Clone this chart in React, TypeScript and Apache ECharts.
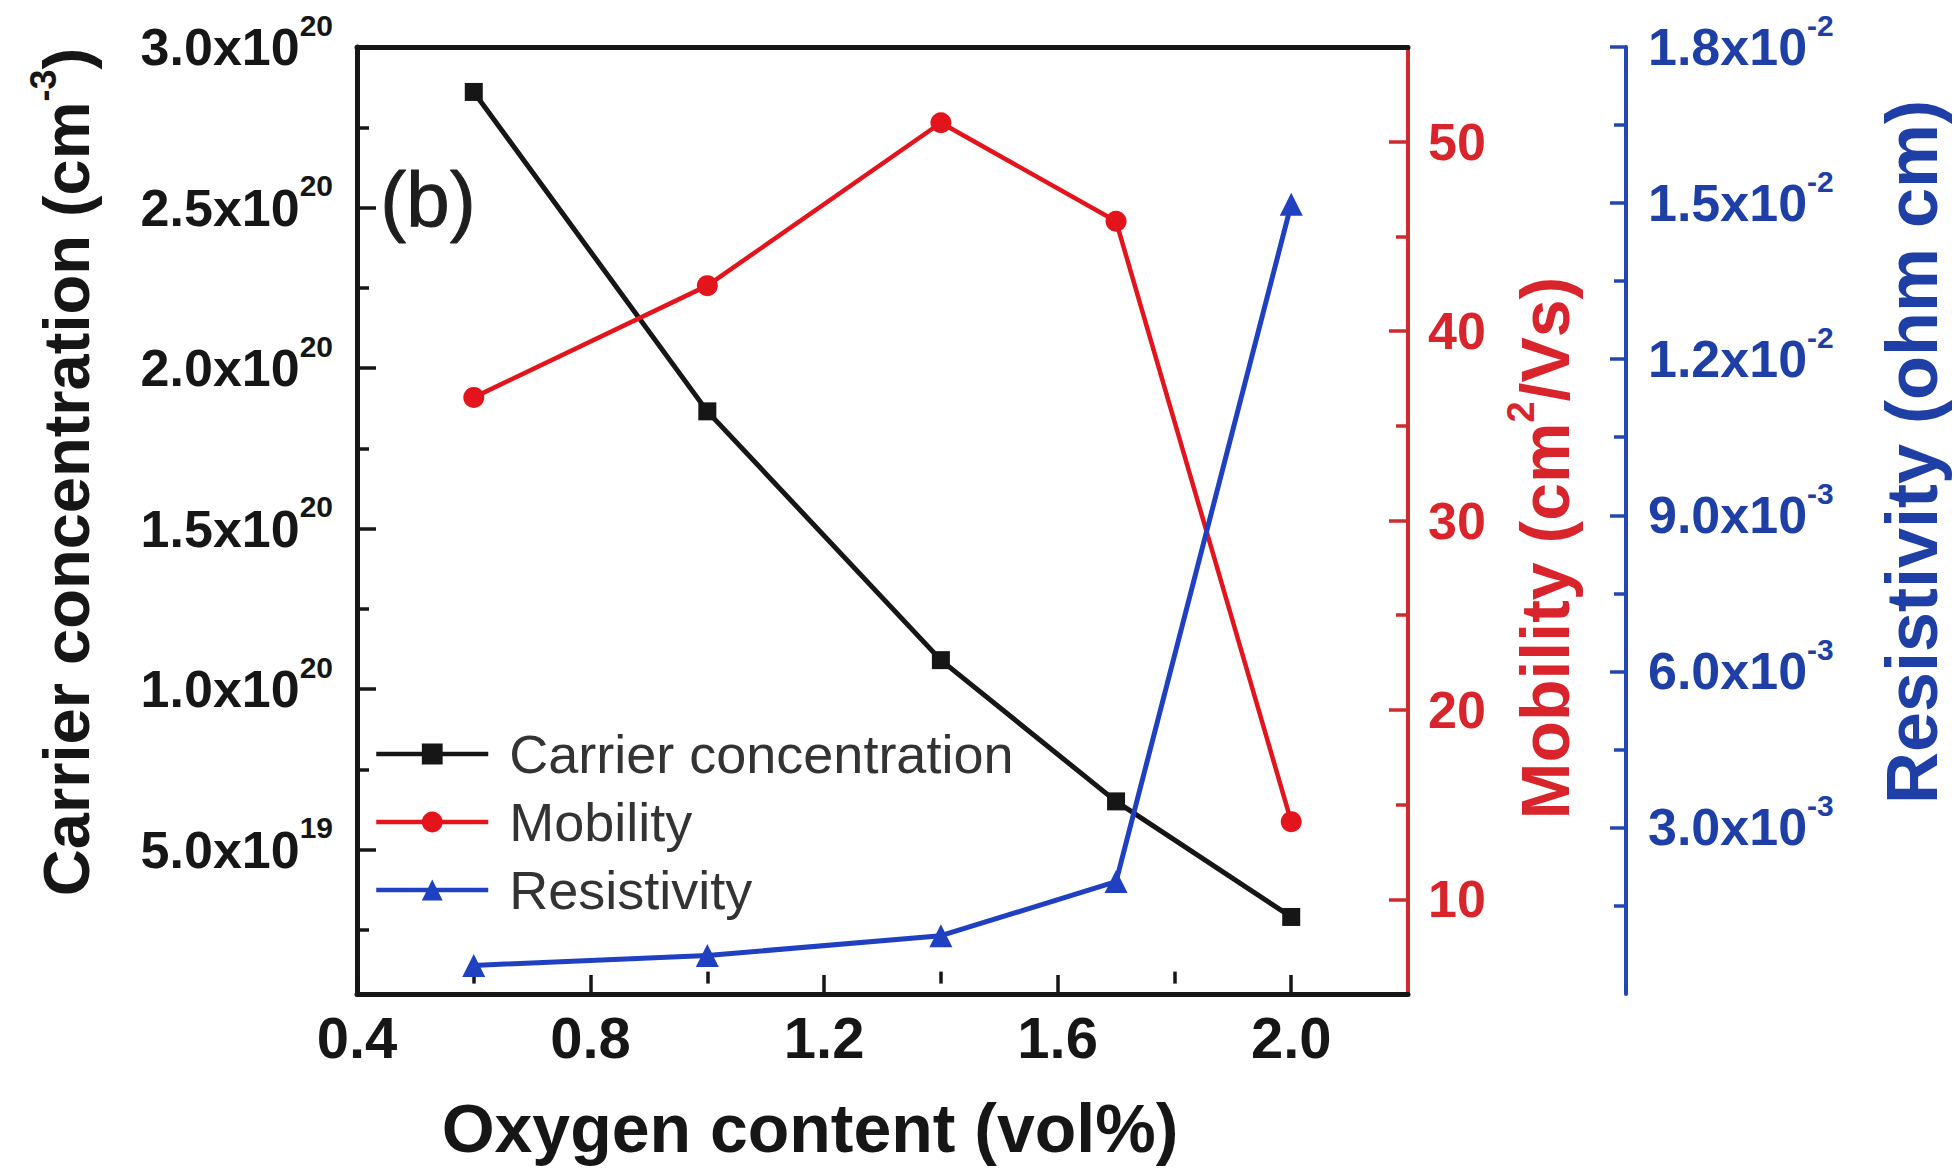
import React, { useEffect, useRef } from "react";
import * as echarts from "echarts";

// ---- data ----
const oxygen = [0.6, 1.0, 1.4, 1.7, 2.0];
const carrier = [2.86e20, 1.865e20, 1.09e20, 0.65e20, 0.29e20];
const mobility = [36.5, 42.4, 51.0, 45.8, 14.1];
const resistivity = [0.00035, 0.00054, 0.00092, 0.00196, 0.01498];

const seriesNames = ["Carrier concentration", "Mobility", "Resistivity"];

// ---- ticks ----
const xMajor = [0.4, 0.8, 1.2, 1.6, 2.0];
const xMinor = [0.6, 1.0, 1.4, 1.8];
const carrierMajor = [5e19, 1e20, 1.5e20, 2e20, 2.5e20, 3e20];
const carrierMinor = [2.5e19, 7.5e19, 1.25e20, 1.75e20, 2.25e20, 2.75e20];
const mobilityMajor = [10, 20, 30, 40, 50];
const mobilityMinor = [15, 25, 35, 45];
const resMajor = [0.003, 0.006, 0.009, 0.012, 0.015, 0.018];
const resMinor = [0.0015, 0.0045, 0.0075, 0.0105, 0.0135, 0.0165];

const FONT = '"Liberation Sans", Arial, Helvetica, sans-serif';
const BLACK = "#161616";
const RED = "#e3141c";
const RED_AXIS = "#cf2a2e";
const RED_TEXT = "#d8242a";
const BLUE = "#1f40c0";
const BLUE_AXIS = "#2446b4";
const BLUE_TEXT = "#1e3fa6";

function sci(v: number) {
  const e = Math.floor(Math.log10(v) + 1e-9);
  const m = v / Math.pow(10, e);
  return `{m|${m.toFixed(1)}x10}{s|${e}}`;
}

function richFor(color: string) {
  return {
    m: { fontSize: 52, fontWeight: "bold", color, fontFamily: FONT },
    s: { fontSize: 30, fontWeight: "bold", color, fontFamily: FONT, padding: [0, 0, 44, 0] },
  };
}

function minorAxis(position: string, min: number, max: number, values: number[], color: string, len: number, offset = 0) {
  return {
    type: "value",
    position,
    offset,
    min,
    max,
    axisLine: { show: false },
    axisLabel: { show: false },
    splitLine: { show: false },
    axisTick: { show: true, inside: true, length: len, customValues: values, lineStyle: { color, width: 3.5 } },
  };
}

export default function App() {
  const ref = useRef<HTMLDivElement>(null);
  useEffect(() => {
    if (!ref.current) return;
    const chart = echarts.init(ref.current, undefined, { renderer: "svg" });
    const option: any = {
      animation: false,
      backgroundColor: "#ffffff",
      grid: { left: 357, right: 546, top: 47, bottom: 176, containLabel: false },
      xAxis: [
        {
          type: "value",
          position: "bottom",
          min: 0.4,
          max: 2.2,
          axisLine: { show: true, onZero: false, lineStyle: { color: BLACK, width: 5 } },
          axisTick: { show: true, inside: true, length: 19, customValues: xMajor, lineStyle: { color: BLACK, width: 3.5 } },
          axisLabel: {
            customValues: xMajor,
            formatter: (v: number) => v.toFixed(1),
            fontSize: 58,
            fontWeight: "bold",
            color: BLACK,
            fontFamily: FONT,
            margin: 14,
          },
          splitLine: { show: false },
        },
        {
          type: "value",
          position: "bottom",
          min: 0.4,
          max: 2.2,
          axisLine: { show: false },
          axisLabel: { show: false },
          splitLine: { show: false },
          axisTick: { show: true, inside: true, length: 12, customValues: xMinor, lineStyle: { color: BLACK, width: 3.5 } },
        },
        {
          type: "value",
          position: "top",
          min: 0.4,
          max: 2.2,
          axisLine: { show: true, onZero: false, lineStyle: { color: BLACK, width: 5 } },
          axisTick: { show: false },
          axisLabel: { show: false },
          splitLine: { show: false },
        },
      ],
      yAxis: [
        {
          type: "value",
          position: "left",
          min: 5e18,
          max: 3e20,
          axisLine: { show: true, onZero: false, lineStyle: { color: BLACK, width: 5 } },
          axisTick: { show: true, inside: true, length: 19, customValues: carrierMajor, lineStyle: { color: BLACK, width: 3.5 } },
          axisLabel: { customValues: carrierMajor, formatter: sci, margin: 24, rich: richFor(BLACK) },
          splitLine: { show: false },
        },
        {
          type: "value",
          position: "right",
          offset: 0,
          min: 5,
          max: 55,
          axisLine: { show: true, onZero: false, lineStyle: { color: RED_AXIS, width: 4 } },
          axisTick: { show: true, inside: true, length: 19, customValues: mobilityMajor, lineStyle: { color: RED_AXIS, width: 3.5 } },
          axisLabel: {
            customValues: mobilityMajor,
            fontSize: 52,
            fontWeight: "bold",
            color: RED_TEXT,
            fontFamily: FONT,
            margin: 20,
          },
          splitLine: { show: false },
        },
        {
          type: "value",
          position: "right",
          offset: 218,
          min: -0.0002,
          max: 0.018,
          axisLine: { show: true, onZero: false, lineStyle: { color: BLUE_AXIS, width: 4 } },
          axisTick: { show: true, inside: true, length: 16, customValues: resMajor, lineStyle: { color: BLUE_AXIS, width: 3.5 } },
          axisLabel: { customValues: resMajor, formatter: sci, margin: 22, rich: richFor(BLUE_TEXT) },
          splitLine: { show: false },
        },
        minorAxis("left", 5e18, 3e20, carrierMinor, BLACK, 12),
        minorAxis("right", 5, 55, mobilityMinor, RED_AXIS, 12),
        minorAxis("right", -0.0002, 0.018, resMinor, BLUE_AXIS, 12, 218),
      ],
      legend: {
        show: true,
        orient: "vertical",
        left: 369,
        top: 719,
        itemWidth: 112,
        itemHeight: 26,
        itemGap: 8,
        data: seriesNames,
        lineStyle: { width: 4.5 },
        textStyle: { fontSize: 54, color: "#333333", fontFamily: FONT, lineHeight: 60, padding: [0, 0, 0, 16] },
      },
      series: [
        {
          name: seriesNames[0],
          type: "line",
          xAxisIndex: 0,
          yAxisIndex: 0,
          data: oxygen.map((x, i) => [x, carrier[i]]),
          symbol: "rect",
          symbolSize: 18,
          lineStyle: { color: BLACK, width: 5 },
          itemStyle: { color: BLACK },
          z: 3,
        },
        {
          name: seriesNames[1],
          type: "line",
          xAxisIndex: 0,
          yAxisIndex: 1,
          data: oxygen.map((x, i) => [x, mobility[i]]),
          symbol: "circle",
          symbolSize: 21,
          lineStyle: { color: RED, width: 4.5 },
          itemStyle: { color: RED },
          z: 3,
        },
        {
          name: seriesNames[2],
          type: "line",
          xAxisIndex: 0,
          yAxisIndex: 2,
          data: oxygen.map((x, i) => [x, resistivity[i]]),
          symbol: "triangle",
          symbolSize: 23,
          lineStyle: { color: BLUE, width: 5 },
          itemStyle: { color: BLUE },
          z: 3,
        },
      ],
      graphic: [
        {
          type: "text",
          x: 428,
          y: 200,
          style: {
            text: "(b)",
            fontSize: 78,
            fontFamily: FONT,
            fill: "#1e1e1e",
            stroke: "#1e1e1e",
            lineWidth: 1,
            align: "center",
            verticalAlign: "middle",
          },
        },
        {
          type: "text",
          x: 66,
          y: 472,
          rotation: Math.PI / 2,
          style: {
            text: "{t|Carrier concentration (cm}{s|-3}{t|)}",
            align: "center",
            verticalAlign: "middle",
            rich: {
              t: { fontSize: 65, fontWeight: "bold", fill: BLACK, fontFamily: FONT },
              s: { fontSize: 36, fontWeight: "bold", fill: BLACK, fontFamily: FONT, padding: [0, 0, 46, 0] },
            },
          },
        },
        {
          type: "text",
          x: 810,
          y: 1128,
          style: {
            text: "Oxygen content (vol%)",
            fontSize: 68,
            fontWeight: "bold",
            fontFamily: FONT,
            fill: BLACK,
            align: "center",
            verticalAlign: "middle",
          },
        },
        {
          type: "text",
          x: 1545,
          y: 548,
          rotation: Math.PI / 2,
          style: {
            text: "{t|Mobility (cm}{s|2}{t|/Vs)}",
            align: "center",
            verticalAlign: "middle",
            rich: {
              t: { fontSize: 68, fontWeight: "bold", fill: RED_TEXT, fontFamily: FONT },
              s: { fontSize: 38, fontWeight: "bold", fill: RED_TEXT, fontFamily: FONT, padding: [0, 0, 48, 0] },
            },
          },
        },
        {
          type: "text",
          x: 1912,
          y: 452,
          rotation: Math.PI / 2,
          style: {
            text: "Resistivity (ohm cm)",
            fontSize: 72,
            fontWeight: "bold",
            fontFamily: FONT,
            fill: BLUE_TEXT,
            align: "center",
            verticalAlign: "middle",
          },
        },
      ],
    };
    chart.setOption(option);
    return () => chart.dispose();
  }, []);
  return (
    <div
      ref={ref}
      style={{ position: "fixed", left: 0, top: 0, width: 1954, height: 1170, background: "#fff" }}
    />
  );
}
